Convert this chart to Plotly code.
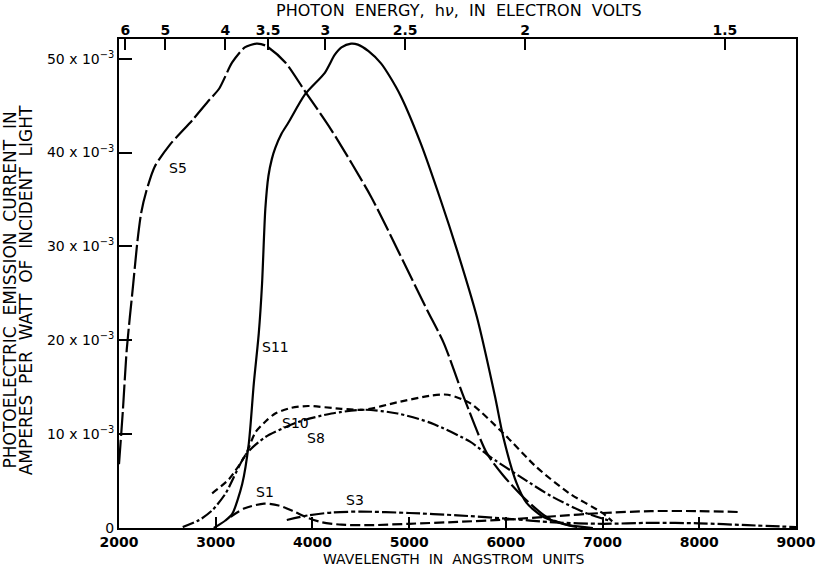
import plotly.graph_objects as go

# Wavelength (Angstrom) and response (x 1e-3 A/W) per cathode type
s5_x = [2000, 2040, 2080, 2147, 2190, 2230, 2283, 2369, 2523, 2762, 2933, 3035, 3170, 3300, 3420, 3515, 3720, 3925, 4196, 4606, 4949, 5187, 5358, 5563, 5802, 5973, 6178, 6417, 6600, 6800]
s5_y = [6.8, 12.5, 19.0, 26.0, 30.5, 33.6, 35.9, 38.5, 40.8, 43.5, 45.6, 46.8, 49.6, 51.2, 51.6, 51.4, 49.6, 46.5, 42.4, 35.3, 28.2, 23.2, 19.7, 14.0, 8.0, 5.6, 3.3, 1.2, 0.4, 0.0]

s11_x = [2980, 3100, 3171, 3274, 3342, 3394, 3445, 3479, 3513, 3545, 3580, 3616, 3680, 3752, 3923, 4128, 4230, 4300, 4400, 4470, 4580, 4709, 4800, 4914, 5119, 5324, 5495, 5700, 5888, 5973, 6110, 6212, 6383, 6655, 6900]
s11_y = [0.0, 0.8, 1.5, 4.7, 9.0, 15.4, 20.7, 26.0, 34.0, 37.5, 39.3, 40.5, 42.0, 43.2, 46.2, 48.5, 50.4, 51.2, 51.6, 51.5, 50.8, 49.5, 48.1, 46.0, 41.0, 35.0, 29.6, 22.5, 14.0, 9.7, 4.8, 2.7, 1.2, 0.3, 0.0]

s10_x = [2963, 3137, 3309, 3411, 3520, 3616, 3780, 3957, 4296, 4538, 4880, 5222, 5400, 5630, 5973, 6315, 6655, 6998, 7100]
s10_y = [3.7, 5.2, 7.8, 10.2, 11.4, 12.2, 12.8, 13.0, 12.7, 12.6, 13.4, 14.1, 14.2, 13.3, 10.1, 6.5, 3.7, 1.6, 0.7]

s8_x = [2659, 2830, 2966, 3103, 3309, 3514, 3855, 4197, 4538, 4880, 5222, 5630, 5835, 6143, 6485, 6827, 7065]
s8_y = [0.1, 0.85, 1.9, 3.7, 7.8, 9.7, 11.3, 12.2, 12.6, 12.2, 11.2, 9.2, 7.6, 5.5, 3.3, 1.6, 0.8]

s1_x = [3155, 3300, 3500, 3650, 3800, 3950, 4100, 4300, 4600, 5000, 5500, 6000, 6500, 7000, 7500, 8000, 8420]
s1_y = [1.2, 2.1, 2.6, 2.4, 1.8, 1.1, 0.6, 0.35, 0.3, 0.45, 0.65, 0.9, 1.25, 1.6, 1.8, 1.8, 1.7]

s3_x = [3735, 3957, 4200, 4500, 5000, 5500, 6000, 6500, 7000, 7500, 8000, 8500, 9000]
s3_y = [0.85, 1.35, 1.65, 1.75, 1.6, 1.35, 1.0, 0.6, 0.45, 0.55, 0.5, 0.3, 0.1]

x_ticks = [2000, 3000, 4000, 5000, 6000, 7000, 8000, 9000]
y_ticks = [0, 10, 20, 30, 40, 50]
y_ticktext = ["0", "10 x 10<sup>−3</sup>", "20 x 10<sup>−3</sup>", "30 x 10<sup>−3</sup>",
              "40 x 10<sup>−3</sup>", "50 x 10<sup>−3</sup>"]
ev_ticks = [6, 5, 4, 3.5, 3, 2.5, 2, 1.5]
ev_text = ["6", "5", "4", "3.5", "3", "2.5", "2", "1.5"]
ev_pos = [12398.0 / e for e in ev_ticks]

labels = [("S5", 2605, 38.4), ("S11", 3619, 19.3), ("S10", 3824, 11.2),
          ("S8", 4040, 9.6), ("S1", 3507, 3.8), ("S3", 4439, 3.0)]

FONT = "DejaVu Sans, Verdana, sans-serif"
NB = "\u00a0"


def spaced(words, n):
    return (NB * n).join(words)


fig = go.Figure()

def add(x, y, dash):
    fig.add_trace(go.Scatter(x=x, y=y, mode="lines",
                             line=dict(color="black", width=2.2, dash=dash,
                                       shape="spline", smoothing=0.7),
                             showlegend=False, hoverinfo="skip"))

add(s5_x, s5_y, "24px,4px")
add(s11_x, s11_y, "solid")
add(s10_x, s10_y, "7px,4px")
add(s8_x, s8_y, "12px,3px,3px,3px")
add(s1_x, s1_y, "10px,4px")
add(s3_x, s3_y, "14px,3px,4px,3px")

# invisible trace for the top energy axis
fig.add_trace(go.Scatter(x=[2000, 9000], y=[0, 0], xaxis="x2", mode="lines",
                         line=dict(width=0), showlegend=False, hoverinfo="skip"))

for name, lx, ly in labels:
    fig.add_annotation(x=lx, y=ly, text=name, showarrow=False,
                       font=dict(family=FONT, size=14, color="black"))

# axis titles as paper annotations
title_kw = dict(xref="paper", yref="paper", showarrow=False,
                xanchor="center", yanchor="middle")
fig.add_annotation(x=0.502, y=1.0593,
                   text=spaced(["PHOTON", "ENERGY,", "h<i>ν</i>,", "IN", "ELECTRON", "VOLTS"], 2),
                   font=dict(family=FONT, size=16, color="black"), **title_kw)
fig.add_annotation(x=0.495, y=-0.0634,
                   text=spaced(["WAVELENGTH", "IN", "ANGSTROM", "UNITS"], 2),
                   font=dict(family=FONT, size=14, color="black"), **title_kw)
fig.add_annotation(x=-0.1603, y=0.4867, textangle=-90,
                   text=spaced(["PHOTOELECTRIC", "EMISSION", "CURRENT", "IN"], 2),
                   font=dict(family=FONT, size=17, color="black"), **title_kw)
fig.add_annotation(x=-0.1369, y=0.4867, textangle=-90,
                   text=spaced(["AMPERES", "PER", "WATT", "OF", "INCIDENT", "LIGHT"], 2),
                   font=dict(family=FONT, size=17, color="black"), **title_kw)

fig.update_layout(
    width=828, height=568,
    margin=dict(l=119, r=26, t=39, b=40),
    plot_bgcolor="white", paper_bgcolor="white",
    font=dict(family=FONT, size=14, color="black"),
    xaxis=dict(range=[2000, 9000], tickvals=x_ticks, ticks="inside", ticklen=11,
               tickwidth=1.5, tickcolor="black", showline=True, linecolor="black",
               linewidth=2, mirror=True, showgrid=False, zeroline=False,
               tickfont=dict(family=FONT, size=14, weight="bold")),
    xaxis2=dict(range=[2000, 9000], overlaying="x", side="top", tickvals=ev_pos,
                ticktext=ev_text, ticks="inside", ticklen=11, tickwidth=1.5,
                tickcolor="black", showline=False, showgrid=False, zeroline=False,
                tickfont=dict(family=FONT, size=14, weight="bold")),
    yaxis=dict(range=[0, 52.1], tickvals=y_ticks, ticktext=y_ticktext, ticks="inside",
               ticklen=13, tickwidth=1.5, tickcolor="black", showline=True,
               linecolor="black", linewidth=2, mirror=True, showgrid=False,
               zeroline=False, tickfont=dict(family=FONT, size=14)),
)

fig.write_html("out.html")
